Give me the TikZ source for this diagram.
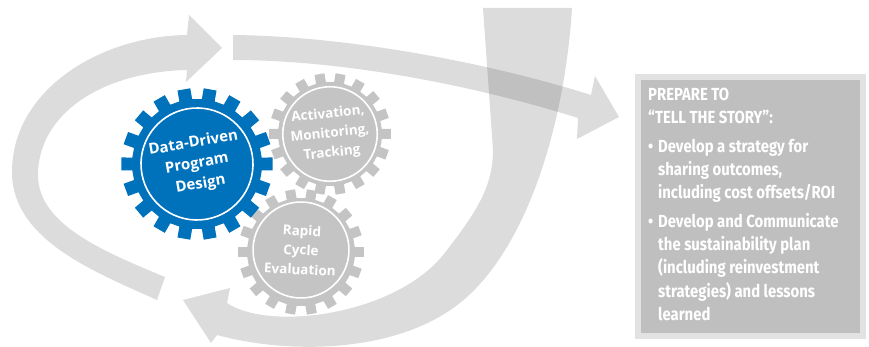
\documentclass[tikz,border=0pt]{standalone}
\usepackage{fontspec}
\setmainfont{Open Sans}
\newfontfamily\boxfont{Fira Sans}[FakeStretch=0.85]
\usepackage{tikz}
\usetikzlibrary{positioning}
\definecolor{gearblue}{RGB}{0,114,188}
\definecolor{geargray}{RGB}{196,196,196}
\definecolor{bandgray}{RGB}{80,80,80}
\definecolor{boxrim}{RGB}{226,226,226}
\definecolor{boxfill}{RGB}{191,191,191}
\tikzstyle{band}=[fill=bandgray,fill opacity=0.2]
\tikzstyle{ring}=[circle,draw=white,line width=1.6pt,inner sep=0pt,text=white,align=center]
\tikzstyle{panel}=[rectangle,draw=boxrim,fill=boxfill,line width=6pt,inner sep=0pt,minimum width=225pt,minimum height=259pt]
\tikzstyle{storytext}=[text=white,align=left,inner sep=0pt,font=\boxfont\bfseries\fontsize{17.5}{23.3}\selectfont]
% colour, centre, teeth, root radius, tip radius, half tooth width
\newcommand\cog[6]{
  \fill[#1,shift={#2}] ({180/#3}:#4)
    \foreach \k in {1,...,#3}{
      -- ({\k*360/#3-asin(#6/#4)}:#4) -- ({\k*360/#3-asin(#6/#5)}:#5)
      -- ({\k*360/#3+asin(#6/#5)}:#5) -- ({\k*360/#3+asin(#6/#4)}:#4)
    } -- cycle;
}
\newcommand\bul{\makebox[10pt][l]{\textbullet}}

\begin{document}
\begin{tikzpicture}[x=1pt,y=-1pt]
  \useasboundingbox (0,0) rectangle (869,347);
  % loop back to the design gear
  \fill[band] (157,300) .. controls (95,272) and (12,240) .. (12,172)
    .. controls (12,90) and (100,36) .. (187,35) -- (189,15) -- (222,48) -- (186,82) -- (187,70)
    .. controls (100,72) and (38,115) .. (38,175) .. controls (38,225) and (105,252) .. (165,277) -- cycle;
  % big J sweep
  \fill[band] (483,8) -- (572,8) .. controls (565,120) and (530,240) .. (467,297)
    .. controls (404,354) and (290,355) .. (217,335) -- (211,343) -- (183,300) -- (230,288) -- (227,303)
    .. controls (270,332) and (400,315) .. (447,250) .. controls (478,210) and (493,185) .. (493,150) -- cycle;
  % arrow to the story box
  \fill[band] (233,35) .. controls (340,36) and (480,60) .. (591,95) -- (595,76) -- (619,117) -- (577,139) -- (578,118)
    .. controls (470,84) and (340,60) .. (233,60) -- cycle;
  % gears
  \cog{geargray}{(330,134)}{18}{52}{61}{5}
  \cog{geargray}{(301,252)}{18}{54}{63}{5}
  \cog{gearblue}{(197,164)}{18}{65}{76}{6.5}
  \node[ring,minimum size=94pt,rotate=6,font=\bfseries\fontsize{13.5}{19.5}\selectfont] at (330,134) (track) {Activation,\\Monitoring,\\Tracking};
  \node[ring,minimum size=96pt,rotate=-3,font=\bfseries\fontsize{13.5}{19.5}\selectfont] at (301,250) (rapid) {Rapid\\Cycle\\Evaluation};
  \node[ring,minimum size=112pt,rotate=10,font=\bfseries\fontsize{15}{21}\selectfont] at (197,164) (design) {Data-Driven\\Program\\Design};
  % story box
  \node[panel] at (750.5,206.5) (story) {};
  \node[storytext,below right=14pt and 13pt of story.north west,anchor=north west] (storytxt) {PREPARE TO\\
    “TELL THE STORY”:\\[5pt]
    \bul Develop a strategy for\\
    \hspace*{10pt}sharing outcomes,\\
    \hspace*{10pt}including cost offsets/ROI\\[5pt]
    \bul Develop and Communicate\\
    \hspace*{10pt}the sustainability plan\\
    \hspace*{10pt}(including reinvestment\\
    \hspace*{10pt}strategies) and lessons\\
    \hspace*{10pt}learned};
\end{tikzpicture}
\end{document}
